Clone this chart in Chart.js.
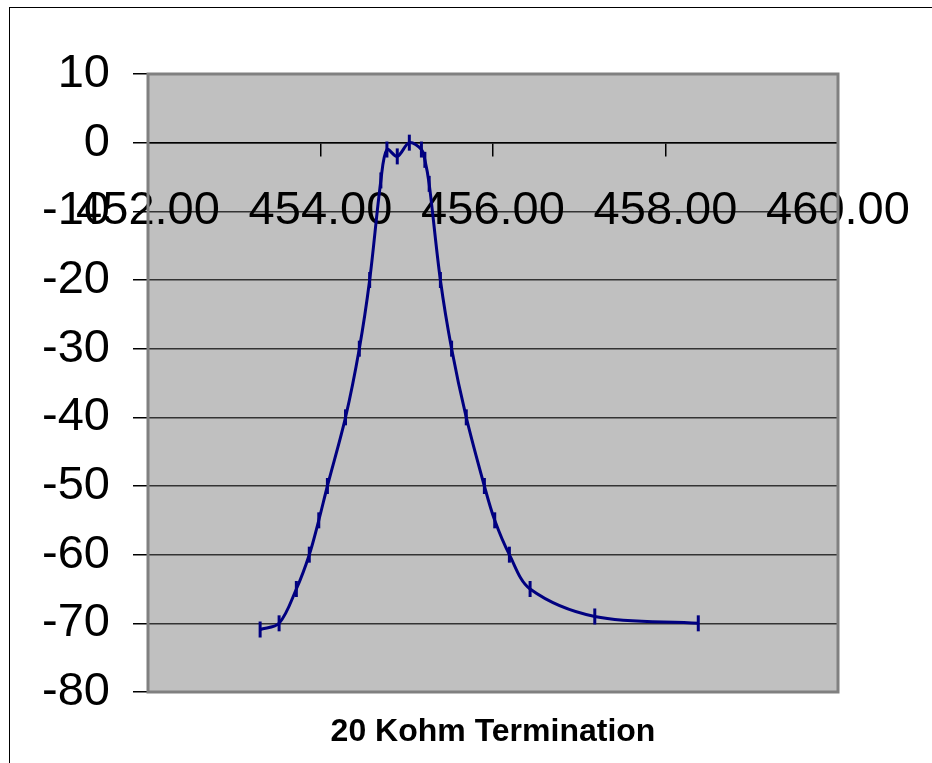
<!DOCTYPE html>
<html>
<head>
<meta charset="utf-8">
<script src="https://cdn.jsdelivr.net/npm/chart.js@4/dist/chart.umd.min.js"></script>
<style>
  html, body { margin: 0; padding: 0; background: #fff; overflow: hidden; }
  #frame { position: absolute; left: 9px; top: 7px; width: 1000px; height: 1000px;
           border-left: 1.5px solid #000; border-top: 1.5px solid #000; }
  #wrap { position: absolute; left: 0; top: 0; width: 932px; height: 763px; }
</style>
</head>
<body>
<div id="frame"></div>
<div id="wrap"><canvas id="respChart"></canvas></div>
<script>
// frequency (MHz) and response (dB)
const freqs = [453.30, 453.52, 453.72, 453.87, 453.98, 454.08, 454.29, 454.45, 454.57,
               454.70, 454.77, 454.89, 455.03, 455.17, 455.21, 455.26,
               455.39, 455.52, 455.69, 455.90, 456.02, 456.19, 456.43, 457.18, 458.38];
const levels = [-70.9, -70, -65, -60, -55, -50, -40, -30, -20,
                -5.5, -1, -2, 0, -1, -2.5, -6,
                -20, -30, -40, -50, -55, -60, -65, -69, -70];
const xTicks = [452, 454, 456, 458, 460];
const yTicks = [10, 0, -10, -20, -30, -40, -50, -60, -70, -80];
const chartTitle = '20 Kohm Termination';

const FONT = 'Arial, "Liberation Sans", sans-serif';

// gray plot area with a gray frame, like the old Excel charts
const plotArea = {
  id: 'plotArea',
  beforeDraw(chart) {
    const {ctx, chartArea: a} = chart;
    ctx.save();
    ctx.fillStyle = '#c0c0c0';
    ctx.fillRect(a.left, a.top, a.right - a.left, a.bottom - a.top);
    ctx.restore();
  },
  beforeDatasetsDraw(chart) {
    const {ctx, chartArea: a} = chart;
    ctx.save();
    ctx.strokeStyle = '#808080';
    ctx.lineWidth = 3;
    ctx.strokeRect(a.left, a.top, a.right - a.left, a.bottom - a.top);
    ctx.restore();
  },
  // axis title under the plot, centred on the plot area
  afterDraw(chart) {
    const {ctx, chartArea: a} = chart;
    ctx.save();
    ctx.fillStyle = '#000';
    ctx.font = 'bold 32px ' + FONT;
    ctx.textAlign = 'center';
    ctx.textBaseline = 'middle';
    ctx.fillText(chartTitle, (a.left + a.right) / 2, a.bottom + 40);
    ctx.restore();
  }
};

const ctx = document.getElementById('respChart').getContext('2d');
new Chart(ctx, {
  type: 'line',
  data: {
    datasets: [{
      data: freqs.map((f, i) => ({x: f, y: levels[i]})),
      borderColor: '#000080',
      backgroundColor: '#000080',
      borderWidth: 3,
      tension: 0.33,
      pointStyle: 'line',
      pointRotation: 90,
      pointRadius: 8,
      pointBorderWidth: 3,
      pointBorderColor: '#000080'
    }]
  },
  plugins: [plotArea],
  options: {
    responsive: true,
    maintainAspectRatio: false,
    animation: false,
    layout: {padding: {left: 0, top: 74, right: 94, bottom: 71}},
    plugins: {
      legend: {display: false},
      tooltip: {enabled: false},
      title: {display: false}
    },
    scales: {
      x: {
        type: 'linear',
        position: {y: 0},
        min: 452, max: 460,
        afterBuildTicks: s => { s.ticks = xTicks.map(v => ({value: v})); },
        afterFit: s => { s.paddingLeft = 0; s.paddingRight = 0; },
        ticks: {
          autoSkip: false, maxRotation: 0, padding: 27,
          color: '#000',
          font: {family: FONT, size: 47},
          callback: v => Number(v).toFixed(2)
        },
        grid: {drawOnChartArea: false, drawTicks: true, tickLength: 13, tickColor: '#000', lineWidth: 1.5},
        border: {display: true, color: '#000', width: 1.5}
      },
      y: {
        type: 'linear',
        min: -80, max: 10,
        afterBuildTicks: s => { s.ticks = yTicks.map(v => ({value: v})); },
        afterFit: s => { s.width = 148; },
        ticks: {
          padding: 23,
          color: '#000',
          font: {family: FONT, size: 47}
        },
        grid: {color: '#333', lineWidth: 1.5, tickLength: 15, tickColor: '#000'},
        border: {display: false}
      }
    }
  }
});
</script>
</body>
</html>
